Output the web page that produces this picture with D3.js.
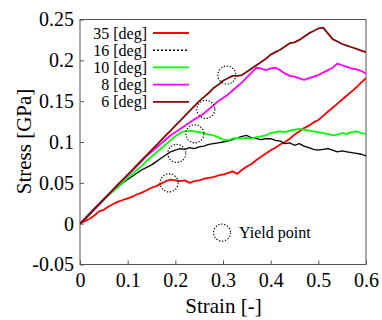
<!DOCTYPE html>
<html>
<head>
<meta charset="utf-8">
<title>Stress-Strain</title>
<script src="https://cdn.jsdelivr.net/npm/d3@7"></script>
<style>
  body { margin: 0; background: #fff; }
  svg text { font-family: 'Liberation Serif', 'DejaVu Serif', serif; fill: #000; }
</style>
</head>
<body>
<svg id="chart" width="382" height="320" font-family="Liberation Serif, DejaVu Serif, serif"></svg>
<script>
// strain axis shared by every curve
var strain = d3.range(61).map(function(i) { return i / 100; });

var seriesNames = ["35 [deg]", "16 [deg]", "10 [deg]", "8 [deg]", "6 [deg]"];
var seriesColors = ["#ff0000", "#000000", "#00ff00", "#ff00ff", "#7f0a0a"];

var stress35 = [0, .003, .006, .010, .015, .017, .021, .024, .027, .029,
  .031, .033, .036, .038, .041, .044, .046, .049, .052, .054,
  .053, .052, .053, .050, .052, .053, .055, .056, .057, .059,
  .060, .062, .064, .061, .066, .070, .073, .078, .082, .086,
  .090, .093, .097, .100, .104, .109, .113, .117, .120, .124,
  .127, .132, .137, .142, .147, .152, .157, .162, .167, .173, .178];

var stress16 = [0, .005, .011, .017, .023, .029, .035, .041, .045, .050,
  .054, .058, .062, .066, .069, .072, .076, .080, .084, .088,
  .090, .092, .091, .093, .092, .094, .095, .097, .098, .099,
  .100, .101, .103, .105, .107, .108, .105, .104, .103, .104,
  .104, .102, .101, .098, .099, .096, .098, .095, .093, .091,
  .090, .091, .092, .090, .088, .089, .088, .087, .086, .085, .083];

var stress10 = [0, .006, .012, .018, .024, .029, .035, .040, .045, .051,
  .056, .061, .066, .071, .077, .082, .087, .092, .097, .102,
  .107, .111, .113, .114, .113, .112, .111, .109, .108, .106,
  .103, .102, .104, .105, .104, .105, .104, .106, .107, .108,
  .111, .112, .113, .112, .114, .115, .116, .115, .114, .113,
  .112, .111, .110, .108, .109, .111, .110, .112, .113, .111, .110];

var stress8 = [0, .006, .012, .018, .024, .030, .036, .042, .048, .054,
  .059, .065, .071, .077, .083, .088, .093, .098, .103, .108,
  .112, .116, .120, .124, .128, .131, .135, .140, .145, .150,
  .154, .158, .163, .168, .173, .179, .185, .191, .190, .188,
  .190, .191, .188, .184, .181, .180, .178, .176, .178, .180,
  .182, .185, .188, .191, .196, .194, .192, .190, .189, .187, .184];

var stress6 = [0, .006, .012, .018, .024, .030, .036, .042, .048, .054,
  .060, .066, .072, .078, .084, .090, .096, .102, .108, .114,
  .120, .126, .132, .138, .144, .150, .155, .160, .166, .170,
  .175, .178, .181, .181, .182, .186, .190, .194, .198, .202,
  .207, .210, .213, .217, .221, .222, .225, .229, .233, .236,
  .239, .240, .233, .226, .223, .220, .218, .216, .214, .212, .210];

var yieldStrain = [0.187, 0.203, 0.241, 0.264, 0.308];
var yieldStress = [0.050, 0.086, 0.110, 0.140, 0.182];

var xTicks = [0, 0.1, 0.2, 0.3, 0.4, 0.5, 0.6];
var yTicks = [-0.05, 0, 0.05, 0.1, 0.15, 0.2, 0.25];

var allStress = [stress35, stress16, stress10, stress8, stress6];

var serif = "Liberation Serif, DejaVu Serif, serif";

var margin = {top: 19.5, right: 16, bottom: 55.5, left: 80};
var width = 382 - margin.left - margin.right;
var height = 320 - margin.top - margin.bottom;

var svg = d3.select("#chart");
var g = svg.append("g").attr("transform", "translate(" + margin.left + "," + margin.top + ")");

var x = d3.scaleLinear().domain([0, 0.6]).range([0, width]);
var y = d3.scaleLinear().domain([-0.05, 0.25]).range([height, 0]);

g.append("defs").append("clipPath").attr("id", "plotclip")
  .append("rect").attr("width", width).attr("height", height);

// axes, ticks pointing into the plot
var fmt = function(d) { return String(+d.toFixed(2)); };

var xAxis = g.append("g").attr("transform", "translate(0," + height + ")")
  .call(d3.axisBottom(x).tickValues(xTicks).tickSize(-4).tickPadding(8).tickFormat(fmt));
var yAxis = g.append("g")
  .call(d3.axisLeft(y).tickValues(yTicks).tickSize(-4).tickPadding(6).tickFormat(fmt));

[xAxis, yAxis].forEach(function(a) {
  a.attr("font-family", serif).attr("font-size", 20);
  a.select(".domain").remove();
  a.selectAll(".tick line").attr("stroke", "#555");
});
xAxis.selectAll("text").attr("dy", "0.71em");

g.append("rect").attr("width", width).attr("height", height)
  .attr("fill", "none").attr("stroke", "#555").attr("stroke-width", 1);

// curves
var line = d3.line()
  .x(function(d) { return x(d[0]); })
  .y(function(d) { return y(d[1]); });

var curves = g.append("g").attr("clip-path", "url(#plotclip)");
allStress.forEach(function(s, i) {
  curves.append("path")
    .datum(strain.map(function(e, j) { return [e, s[j]]; }))
    .attr("d", line)
    .attr("fill", "none")
    .attr("stroke", seriesColors[i])
    .attr("stroke-width", i == 1 ? 1.3 : 1.8)
    .attr("stroke-linejoin", "round");
});

// yield points
g.selectAll(".yield")
  .data(yieldStrain)
  .enter().append("circle")
  .attr("class", "yield")
  .attr("cx", function(d) { return x(d); })
  .attr("cy", function(d, i) { return y(yieldStress[i]); })
  .attr("r", 9)
  .attr("fill", "none")
  .attr("stroke", "#000")
  .attr("stroke-width", 1.2)
  .attr("stroke-dasharray", "1.3,1.7");

// legend
var legend = g.append("g").attr("font-family", serif).attr("font-size", 16);
seriesNames.forEach(function(n, i) {
  var ly = 13.5 + i * 17.2;
  legend.append("text")
    .attr("x", 67).attr("y", ly).attr("dy", "0.35em")
    .attr("text-anchor", "end")
    .text(n);
  legend.append("line")
    .attr("x1", 73).attr("x2", 109)
    .attr("y1", ly).attr("y2", ly)
    .attr("stroke", seriesColors[i])
    .attr("stroke-width", i == 1 ? 1.5 : 1.8)
    .attr("stroke-dasharray", i == 1 ? "2,2" : null);
});

legend.append("circle")
  .attr("cx", x(0.298)).attr("cy", y(-0.011))
  .attr("r", 8.5)
  .attr("fill", "none").attr("stroke", "#000")
  .attr("stroke-width", 1.2).attr("stroke-dasharray", "1.3,1.7");
legend.append("text")
  .attr("x", x(0.298) + 17).attr("y", y(-0.011)).attr("dy", "0.35em")
  .text("Yield point");

// axis titles
svg.append("text")
  .attr("x", margin.left + width / 2 + 0.5).attr("y", 313)
  .attr("text-anchor", "middle")
  .attr("font-family", serif).attr("font-size", 21)
  .text("Strain [-]");

svg.append("text")
  .attr("transform", "translate(31,141.5) rotate(-90)")
  .attr("text-anchor", "middle")
  .attr("font-family", serif).attr("font-size", 21)
  .text("Stress [GPa]");
</script>
</body>
</html>
